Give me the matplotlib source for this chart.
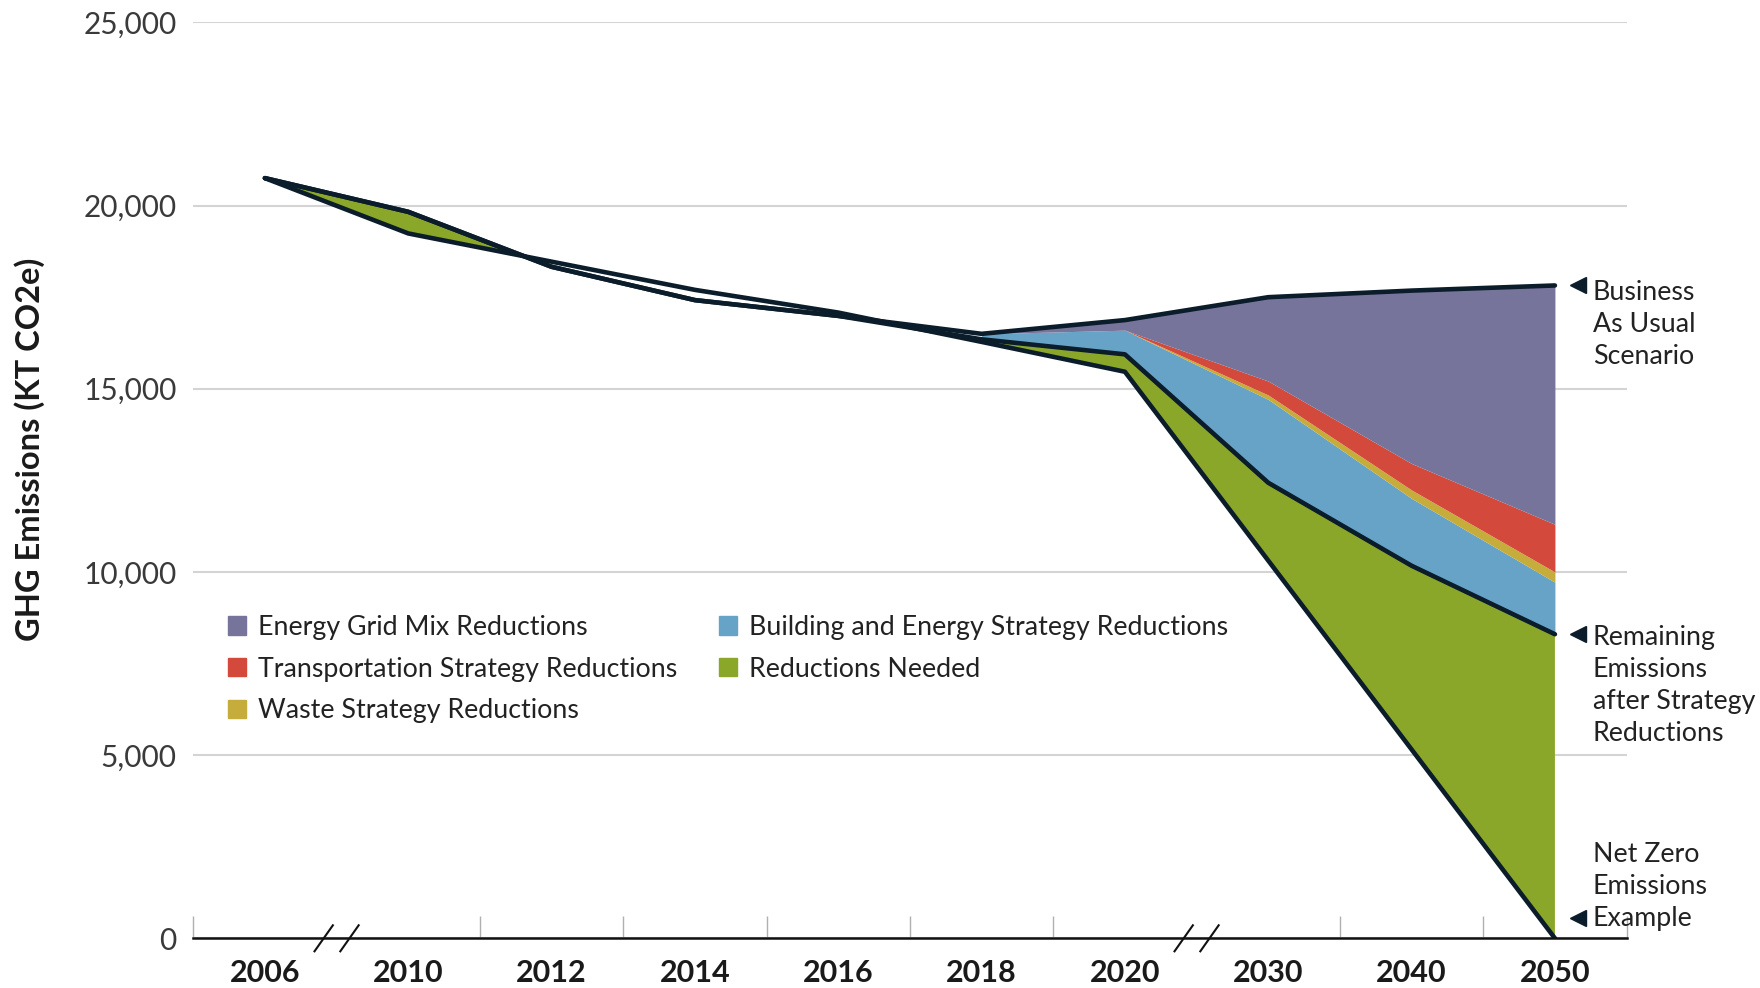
import matplotlib
matplotlib.use('Agg')
import matplotlib.pyplot as plt
from matplotlib.patches import Patch
from matplotlib.ticker import FuncFormatter
import numpy as np

plt.rcParams['font.family'] = ['Lato', 'DejaVu Sans']

# data (KT CO2e)
years = ['2006', '2010', '2012', '2014', '2016', '2018', '2020', '2030', '2040', '2050']
remaining = [20750, 19830, 18330, 17420, 16990, 16350, 15940, 12435, 10170, 8300]
net_zero = [20750, 19240, 18470, 17700, 17080, 16280, 15465, 10310, 5155, 0]
building = [0, 0, 0, 0, 0, 150, 660, 2275, 1838, 1420]
waste = [0, 0, 0, 0, 0, 0, 0, 120, 230, 280]
transport = [0, 0, 0, 0, 0, 0, 0, 380, 722, 1300]
grid_mix = [0, 0, 0, 0, 0, 0, 275, 2290, 4720, 6520]

c_grid = '#76749b'
c_trans = '#d34a3c'
c_waste = '#c6ad3b'
c_build = '#67a3c7'
c_need = '#8ba72a'
c_line = '#0b1c2b'

x = np.arange(len(years))
rem = np.array(remaining, dtype=float)
nz = np.array(net_zero, dtype=float)

fig = plt.figure(figsize=(17.6, 9.88), dpi=100)
ax = fig.add_axes([0.1098, 0.0503, 0.8144, 0.927])

# reductions needed (between remaining and net zero)
ax.fill_between(x, nz, rem, where=rem >= nz, interpolate=True,
                color=c_need, lw=0, zorder=1)

# stacked strategy reductions on top of remaining emissions
s = slice(5, None)
base = rem.copy()
for vals, col in [(building, c_build), (waste, c_waste),
                  (transport, c_trans), (grid_mix, c_grid)]:
    top = base + np.array(vals, dtype=float)
    ax.fill_between(x[s], base[s], top[s], color=col, lw=0, zorder=1)
    base = top
bau = base

for series in (bau, rem, nz):
    ax.plot(x, series, color=c_line, lw=3.3, zorder=3,
            solid_joinstyle='round', solid_capstyle='round')

ax.set_xlim(-0.5, 9.5)
ax.set_ylim(0, 25000)
ax.set_yticks(np.arange(0, 25001, 5000))
ax.yaxis.set_major_formatter(FuncFormatter(lambda v, p: f'{int(v):,}'))
ax.yaxis.grid(True, color='#d4d4d4', lw=1.5, zorder=0)
ax.set_axisbelow(True)
for sp in ['top', 'right', 'left']:
    ax.spines[sp].set_visible(False)
ax.spines['bottom'].set_color('#111111')
ax.spines['bottom'].set_linewidth(1.8)
ax.spines['bottom'].set_zorder(4)

ax.tick_params(axis='y', length=0, pad=12, labelsize=21.5, labelcolor='#3a3a3a')
ax.set_xticks(x)
ax.set_xticklabels(years, fontsize=22, fontweight='bold', color='#1a1a1a')
ax.tick_params(axis='x', which='major', length=0, pad=15)
ax.set_xticks([-0.5, 1.5, 2.5, 3.5, 4.5, 5.5, 7.5, 8.5, 9.5], minor=True)
ax.tick_params(axis='x', which='minor', direction='in', length=16,
               width=1, color='#b0b0b0')

# axis break marks
for c in (0.5, 6.5):
    for dx in (-0.09, 0.09):
        ax.plot([c + dx - 0.064, c + dx + 0.064], [-355, 355], color='#111111',
                lw=1.5, clip_on=False, zorder=5)

fig.text(0.017, 0.5455, 'GHG Emissions (KT CO2e)', rotation=90, ha='center',
         va='center', fontsize=23.5, fontweight='bold', color='#1a1a1a')

handles = [Patch(color=c_grid, label='Energy Grid Mix Reductions'),
           Patch(color=c_trans, label='Transportation Strategy Reductions'),
           Patch(color=c_waste, label='Waste Strategy Reductions'),
           Patch(color=c_build, label='Building and Energy Strategy Reductions'),
           Patch(color=c_need, label='Reductions Needed')]
leg = ax.legend(handles=handles, ncol=2, loc='upper left',
                bbox_to_anchor=(228 / 1760, 1 - 615 / 988),
                bbox_transform=fig.transFigure, frameon=False, fontsize=19.3,
                handlelength=0.68, handleheight=0.68, handletextpad=0.45,
                labelspacing=0.62, columnspacing=1.55, borderpad=0,
                borderaxespad=0)
for t in leg.get_texts():
    t.set_color('#222222')

# right-hand annotations
tri_x = 9.16
txt_x = 9.265
notes = [(bau[-1], 'Business\nAs Usual\nScenario', -39),
         (rem[-1], 'Remaining\nEmissions\nafter Strategy\nReductions', -51),
         (nz[-1] + 560, 'Net Zero\nEmissions\nExample', 31)]
for yv, label, off in notes:
    ax.plot([tri_x], [yv], marker='<', ms=11, color=c_line, clip_on=False,
            zorder=5)
    ax.annotate(label, xy=(txt_x, yv), xytext=(0, off),
                textcoords='offset pixels', ha='left', va='center',
                fontsize=19.3, color='#222222', linespacing=1.35,
                annotation_clip=False)

fig.savefig('out.png', dpi=100)
